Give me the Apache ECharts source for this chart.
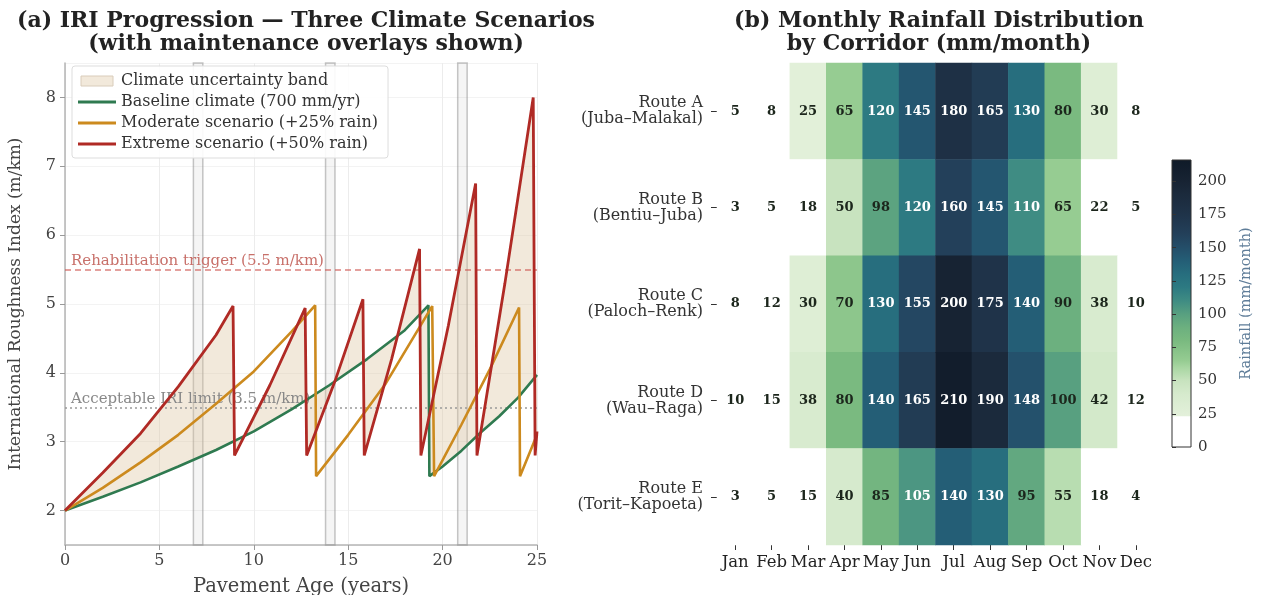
<!DOCTYPE html>
<html>
<head>
<meta charset="utf-8">
<script src="https://cdn.jsdelivr.net/npm/echarts@6/dist/echarts.min.js"></script>
<style>
html,body{margin:0;padding:0;background:#fff;}
#chart{width:1266px;height:595px;}
</style>
</head>
<body>
<div id="chart"></div>
<script>
// ---------------- DATA ----------------
// Panel (a): IRI progression [year, IRI]
const baselineIRI = [[0,2.0],[2,2.2],[4,2.41],[6,2.64],[8,2.88],[10,3.15],[12,3.47],[14,3.82],[16,4.2],[18,4.62],[19.25,4.98],[19.3,2.5],[20,2.64],[21,2.87],[22,3.13],[23,3.37],[24,3.64],[25,3.97]];
const moderateIRI = [[0,2.0],[2,2.33],[4,2.7],[6,3.1],[8,3.55],[10,4.02],[12,4.6],[13.25,4.98],[13.3,2.5],[15,3.1],[17,3.85],[19.45,4.97],[19.55,2.5],[21,3.25],[22.5,4.05],[24.05,4.95],[24.1,2.5],[25,3.1]];
const extremeIRI = [[0,2.0],[2,2.55],[4,3.12],[6,3.8],[8,4.55],[8.9,4.97],[8.98,2.8],[10.85,3.82],[12.72,4.94],[12.8,2.8],[14.3,3.88],[15.78,5.07],[15.85,2.8],[17.3,4.2],[18.78,5.8],[18.85,2.8],[20.3,4.68],[21.75,6.75],[21.82,2.8],[23.3,5.3],[24.8,8.0],[24.9,2.8],[25,3.15]];
const maintenanceStart = [6.8, 13.8, 20.8];
const maintenanceEnd = [7.3, 14.3, 21.3];
const rehabTrigger = 5.5;
const acceptableLimit = 3.5;

// Panel (b): monthly rainfall (mm/month)
const months = ['Jan','Feb','Mar','Apr','May','Jun','Jul','Aug','Sep','Oct','Nov','Dec'];
const routes = ['Route A\n(Juba–Malakal)','Route B\n(Bentiu–Juba)','Route C\n(Paloch–Renk)','Route D\n(Wau–Raga)','Route E\n(Torit–Kapoeta)'];
const rainRouteA = [5,8,25,65,120,145,180,165,130,80,30,8];
const rainRouteB = [3,5,18,50,98,120,160,145,110,65,22,5];
const rainRouteC = [8,12,30,70,130,155,200,175,140,90,38,10];
const rainRouteD = [10,15,38,80,140,165,210,190,148,100,42,12];
const rainRouteE = [3,5,15,40,85,105,140,130,95,55,18,4];
const colorbarTicks = [0,25,50,75,100,125,150,175,200];

// ---------------- STYLE ----------------
const FONT = 'DejaVu Serif';
const C_BASE = '#2f7a50';
const C_MOD = '#cc8a1e';
const C_EXT = '#b02a25';
const BAND = 'rgba(222,196,160,0.38)';
const CB_MAX = 216;
const cmapStops = [[0,'#ffffff'],[23,'#ffffff'],[24,'#e3f0da'],[40,'#d6eacd'],[50,'#c8e3bf'],[60,'#a8d6a2'],[65,'#96cc92'],[80,'#7aba80'],[90,'#6cb07f'],[100,'#58a080'],[110,'#3f8c83'],[120,'#2d7a82'],[130,'#276e7e'],[140,'#245e76'],[150,'#244e69'],[160,'#23405a'],[175,'#1f3349'],[190,'#1b2a3c'],[200,'#172333'],[216,'#0f1a28']];

function hexToRgb(h){return [parseInt(h.slice(1,3),16),parseInt(h.slice(3,5),16),parseInt(h.slice(5,7),16)];}
function cmapAt(v){
  for(let i=0;i<cmapStops.length-1;i++){
    const [v0,c0]=cmapStops[i],[v1,c1]=cmapStops[i+1];
    if(v>=v0&&v<=v1){
      const t=(v-v0)/(v1-v0||1);const a=hexToRgb(c0),b=hexToRgb(c1);
      return 'rgb('+a.map((x,k)=>Math.round(x+(b[k]-x)*t)).join(',')+')';
    }
  }
  return cmapStops[cmapStops.length-1][1];
}
const cmapColors=[];for(let v=0;v<=CB_MAX;v++)cmapColors.push(cmapAt(v));
const cbGradient = new echarts.graphic.LinearGradient(0,1,0,0, cmapStops.map(s=>({offset:s[0]/CB_MAX,color:s[1]})));

const rainRows=[rainRouteA,rainRouteB,rainRouteC,rainRouteD,rainRouteE];
const heatData=[];
rainRows.forEach((row,r)=>row.forEach((v,m)=>{
  heatData.push({value:[m,r,v],label:{color: v>100?'#ffffff':'#1c261c'}});
}));

const markAreas = maintenanceStart.map((s,i)=>[{xAxis:s},{xAxis:maintenanceEnd[i]}]);

const chart = echarts.init(document.getElementById('chart'), null, {renderer:'canvas'});
const option = {
  animation:false,
  backgroundColor:'#ffffff',
  title:[
    {text:'(a) IRI Progression — Three Climate Scenarios\n(with maintenance overlays shown)', left:301, top:5, textAlign:'center',
     textStyle:{fontFamily:FONT,fontWeight:'bold',fontSize:22,color:'#222',lineHeight:23}},
    {text:'(b) Monthly Rainfall Distribution\nby Corridor (mm/month)', left:934, top:5, textAlign:'center',
     textStyle:{fontFamily:FONT,fontWeight:'bold',fontSize:22,color:'#222',lineHeight:23}}
  ],
  legend:{
    orient:'vertical', left:72, top:66, itemWidth:38, itemHeight:10, itemGap:5,
    padding:[7,10,6,6], backgroundColor:'rgba(255,255,255,0.9)', borderColor:'#dddddd', borderWidth:1, borderRadius:3,
    textStyle:{fontFamily:FONT,fontSize:16,color:'#333',lineHeight:16},
    data:[
      {name:'Climate uncertainty band', icon:'path://M0,0H32V10H0Z', itemStyle:{borderColor:'#d9ccba',borderWidth:1}},
      {name:'Baseline climate (700 mm/yr)', icon:'path://M0,0H40V3H0Z'},
      {name:'Moderate scenario (+25% rain)', icon:'path://M0,0H40V3H0Z'},
      {name:'Extreme scenario (+50% rain)', icon:'path://M0,0H40V3H0Z'}
    ]
  },
  grid:[
    {left:65, right:729, top:63, bottom:50, outerBoundsMode:'none', containLabel:false},
    {left:717, right:112, top:63, bottom:50, outerBoundsMode:'none', containLabel:false},
    {left:1172, width:19, top:160, height:287, show:true, backgroundColor:cbGradient, borderColor:'#333', borderWidth:1, outerBoundsMode:'none', containLabel:false}
  ],
  xAxis:[
    {type:'value', gridIndex:0, min:0, max:25, interval:5,
     name:'Pavement Age (years)', nameLocation:'middle', nameGap:32,
     nameTextStyle:{fontFamily:FONT,fontSize:19.5,color:'#444'},
     axisLine:{lineStyle:{color:'#b5b5b5',width:1.5}},
     axisTick:{show:true,length:5,lineStyle:{color:'#999'}},
     axisLabel:{fontFamily:FONT,fontSize:16,color:'#444',margin:8},
     splitLine:{show:true,lineStyle:{color:'#ececec',width:1}}},
    {type:'category', gridIndex:1, data:months,
     axisLine:{show:false}, axisTick:{show:true,alignWithLabel:true,length:5,lineStyle:{color:'#333'}},
     axisLabel:{fontFamily:FONT,fontSize:16.5,color:'#222',margin:9,interval:0},
     splitLine:{show:false}, splitArea:{show:false}},
    {type:'value', gridIndex:2, show:false, min:0, max:1}
  ],
  yAxis:[
    {type:'value', gridIndex:0, min:1.5, max:8.5, splitNumber:7,
     name:'International Roughness Index (m/km)', nameLocation:'middle', nameGap:41,
     nameTextStyle:{fontFamily:FONT,fontSize:17,color:'#444'},
     axisLine:{show:true,lineStyle:{color:'#b5b5b5',width:1.5}},
     axisTick:{show:true,length:5,lineStyle:{color:'#999'}},
     axisLabel:{fontFamily:FONT,fontSize:16,color:'#444',margin:9,showMinLabel:false,showMaxLabel:false},
     splitLine:{show:true,lineStyle:{color:'#f3f3f3',width:1}}},
    {type:'category', gridIndex:1, data:routes, inverse:true,
     axisLine:{show:false}, axisTick:{show:true,alignWithLabel:true,length:6,lineStyle:{color:'#333'}},
     axisLabel:{fontFamily:FONT,fontSize:16,color:'#333',margin:14,lineHeight:16,align:'right'},
     splitLine:{show:false}, splitArea:{show:false}},
    {type:'value', gridIndex:2, min:0, max:CB_MAX, position:'right',
     name:'Rainfall (mm/month)', nameLocation:'middle', nameRotate:90, nameGap:48,
     nameTextStyle:{fontFamily:FONT,fontSize:14.5,color:'#5f7d99'},
     axisLine:{show:false}, axisTick:{show:true,length:4,lineStyle:{color:'#333'},customValues:colorbarTicks},
     axisLabel:{fontFamily:FONT,fontSize:15,color:'#333',margin:7,customValues:colorbarTicks},
     splitLine:{show:false}}
  ],
  visualMap:{
    type:'continuous', show:false, min:0, max:CB_MAX, seriesIndex:4, dimension:2,
    inRange:{color:cmapColors}
  },
  series:[
    {type:'custom', name:'Climate uncertainty band', xAxisIndex:0, yAxisIndex:0, data:[[0,2]], z:1, silent:true,
     itemStyle:{color:BAND},
     renderItem:function(params, api){
       const pts = baselineIRI.map(p=>api.coord(p)).concat(extremeIRI.slice().reverse().map(p=>api.coord(p)));
       return {type:'polygon', shape:{points:pts}, style:{fill:BAND}};
     }},
    {type:'line', name:'Baseline climate (700 mm/yr)', xAxisIndex:0, yAxisIndex:0, data:baselineIRI,
     showSymbol:false, symbol:'none', z:3, color:C_BASE, lineStyle:{color:C_BASE,width:2.6},
     markArea:{silent:true, itemStyle:{color:'rgba(120,120,120,0.07)',borderColor:'rgba(150,150,150,0.55)',borderWidth:1.5}, data:markAreas}},
    {type:'line', name:'Moderate scenario (+25% rain)', xAxisIndex:0, yAxisIndex:0, data:moderateIRI,
     showSymbol:false, symbol:'none', z:4, color:C_MOD, lineStyle:{color:C_MOD,width:2.6}},
    {type:'line', name:'Extreme scenario (+50% rain)', xAxisIndex:0, yAxisIndex:0, data:extremeIRI,
     showSymbol:false, symbol:'none', z:5, color:C_EXT, lineStyle:{color:C_EXT,width:2.8},
     markLine:{silent:true, symbol:['none','none'], z:2,
       data:[
         {yAxis:rehabTrigger, lineStyle:{type:[6,4],color:'rgba(205,85,80,0.75)',width:1.6},
          label:{formatter:'Rehabilitation trigger (5.5 m/km)',position:'insideStartTop',distance:[6,1],color:'#c8706a',fontFamily:FONT,fontSize:15}},
         {yAxis:acceptableLimit, lineStyle:{type:[2,3],color:'#999999',width:1.6},
          label:{formatter:'Acceptable IRI limit (3.5 m/km)',position:'insideStartTop',distance:[6,1],color:'#888888',fontFamily:FONT,fontSize:15}}
       ]}},
    {type:'heatmap', name:'Rainfall', xAxisIndex:1, yAxisIndex:1, data:heatData,
     label:{show:true, fontFamily:FONT, fontSize:13, fontWeight:'bold', formatter:p=>p.value[2]},
     itemStyle:{borderWidth:0}, emphasis:{disabled:true}}
  ]
};
chart.setOption(option);
</script>
</body>
</html>
